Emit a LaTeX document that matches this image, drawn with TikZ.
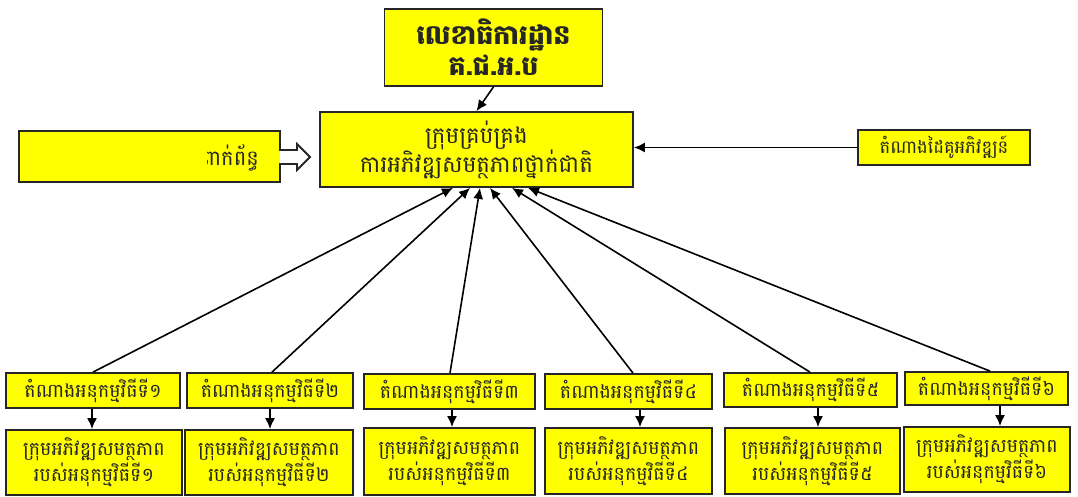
\documentclass[tikz,border=0pt]{standalone}
\usepackage{fontspec}
\newfontfamily\kh[Script=Khmer]{Battambang}
\usetikzlibrary{arrows.meta}
\definecolor{boxyellow}{RGB}{255,255,0}
\begin{document}
\begin{tikzpicture}[x=1pt,y=-1pt,
  box/.style={draw=black!85, line width=1.8pt, fill=boxyellow, inner sep=0pt, align=center, text=black!85},
  arr/.style={line width=1.6pt, -{Latex[length=11pt,width=10pt]}},
  reptext/.style={font=\kh\fontsize{19}{24}\selectfont},
  bottext/.style={font=\kh\fontsize{19}{26}\selectfont}
]
\useasboundingbox (0,0) rectangle (1078,497);
% top
\node[box, minimum width=218pt, minimum height=77pt, font=\kh\bfseries\fontsize{27}{31}\selectfont] (sec) at (493.5,47.5) {លេខាធិការដ្ឋាន\\គ.ជ.អ.ប};
% middle
\node[box, minimum width=313pt, minimum height=75pt, font=\kh\fontsize{23}{29}\selectfont] (mid) at (476.5,149.5) {ក្រុមគ្រប់គ្រង\\ការអភិវឌ្ឍសមត្ថភាពថ្នាក់ជាតិ};
% right
\node[box, minimum width=172pt, minimum height=35pt, font=\kh\fontsize{18}{22}\selectfont] (dp) at (944,147.5) {តំណាងដៃគូអភិវឌ្ឍន៍};
% left block arrow
\fill[boxyellow] (19,131) rectangle (280,182);
\begin{scope}
\clip (207,131) rectangle (280,182);
\node[anchor=east, inner sep=0pt, font=\kh\fontsize{21}{24}\selectfont, text=black!85] (lt) at (259,158) {ពាក់ព័ន្ធ};
\end{scope}
\draw[line width=1.8pt, draw=black!85, line join=miter] (19,131) -- (280,131) -- (280,150) -- (297,150) -- (297,144) -- (310,157) -- (297,170) -- (297,164) -- (280,164) -- (280,182) -- (19,182) -- cycle;
% representatives
\node[box, minimum width=174pt, minimum height=35pt, reptext] (r1) at (93,390.5) {តំណាងអនុកម្មវិធីទី១};
\node[box, minimum width=166pt, minimum height=35pt, reptext] (r2) at (270,390.5) {តំណាងអនុកម្មវិធីទី២};
\node[box, minimum width=171pt, minimum height=35pt, reptext] (r3) at (449.5,391.5) {តំណាងអនុកម្មវិធីទី៣};
\node[box, minimum width=167pt, minimum height=35pt, reptext] (r4) at (628.5,391.5) {តំណាងអនុកម្មវិធីទី៤};
\node[box, minimum width=173pt, minimum height=34pt, reptext] (r5) at (810.5,390) {តំណាងអនុកម្មវិធីទី៥};
\node[box, minimum width=163pt, minimum height=33pt, reptext] (r6) at (986.5,388.5) {តំណាងអនុកម្មវិធីទី៦};
% bottom groups
\node[box, minimum width=176pt, minimum height=65pt, bottext] (b1) at (94,462.5) {ក្រុមអភិវឌ្ឍសមត្ថភាព\\របស់អនុកម្មវិធីទី១};
\node[box, minimum width=168pt, minimum height=65pt, bottext] (b2) at (269,462.5) {ក្រុមអភិវឌ្ឍសមត្ថភាព\\របស់អនុកម្មវិធីទី២};
\node[box, minimum width=171pt, minimum height=67pt, bottext] (b3) at (449.5,461.5) {ក្រុមអភិវឌ្ឍសមត្ថភាព\\របស់អនុកម្មវិធីទី៣};
\node[box, minimum width=167pt, minimum height=66pt, bottext] (b4) at (628.5,461) {ក្រុមអភិវឌ្ឍសមត្ថភាព\\របស់អនុកម្មវិធីទី៤};
\node[box, minimum width=175pt, minimum height=66pt, bottext] (b5) at (812.5,461) {ក្រុមអភិវឌ្ឍសមត្ថភាព\\របស់អនុកម្មវិធីទី៥};
\node[box, minimum width=166pt, minimum height=65pt, bottext] (b6) at (987,459.5) {ក្រុមអភិវឌ្ឍសមត្ថភាព\\របស់អនុកម្មវិធីទី៦};
% connectors
\draw[arr] (sec.south) -- (mid.north);
\draw[arr] (dp.west) -- (dp.west -| mid.east);
\coordinate (e1) at ([xshift=-23.5pt]mid.south);
\coordinate (e2) at ([xshift=-6.5pt]mid.south);
\coordinate (e3) at ([xshift=3.5pt]mid.south);
\coordinate (e4) at ([xshift=13.5pt]mid.south);
\coordinate (e5) at ([xshift=35.5pt]mid.south);
\coordinate (e6) at ([xshift=51.5pt]mid.south);
\coordinate (s1) at ([xshift=0pt]r1.north);
\coordinate (s2) at ([xshift=2pt]r2.north);
\coordinate (s3) at ([xshift=0.5pt]r3.north);
\coordinate (s4) at ([xshift=4.5pt]r4.north);
\coordinate (s5) at ([xshift=-0.5pt]r5.north);
\coordinate (s6) at ([xshift=3.5pt]r6.north);
\foreach \i in {1,...,6} {\draw[arr] (s\i) -- (e\i);}
\coordinate (d1) at (92,0);
\coordinate (d2) at (270,0);
\coordinate (d3) at (452,0);
\coordinate (d4) at (640,0);
\coordinate (d5) at (818,0);
\coordinate (d6) at (1000,0);
\foreach \i in {1,...,6} {\draw[arr] (r\i.south -| d\i) -- (b\i.north -| d\i);}
\end{tikzpicture}
\end{document}
